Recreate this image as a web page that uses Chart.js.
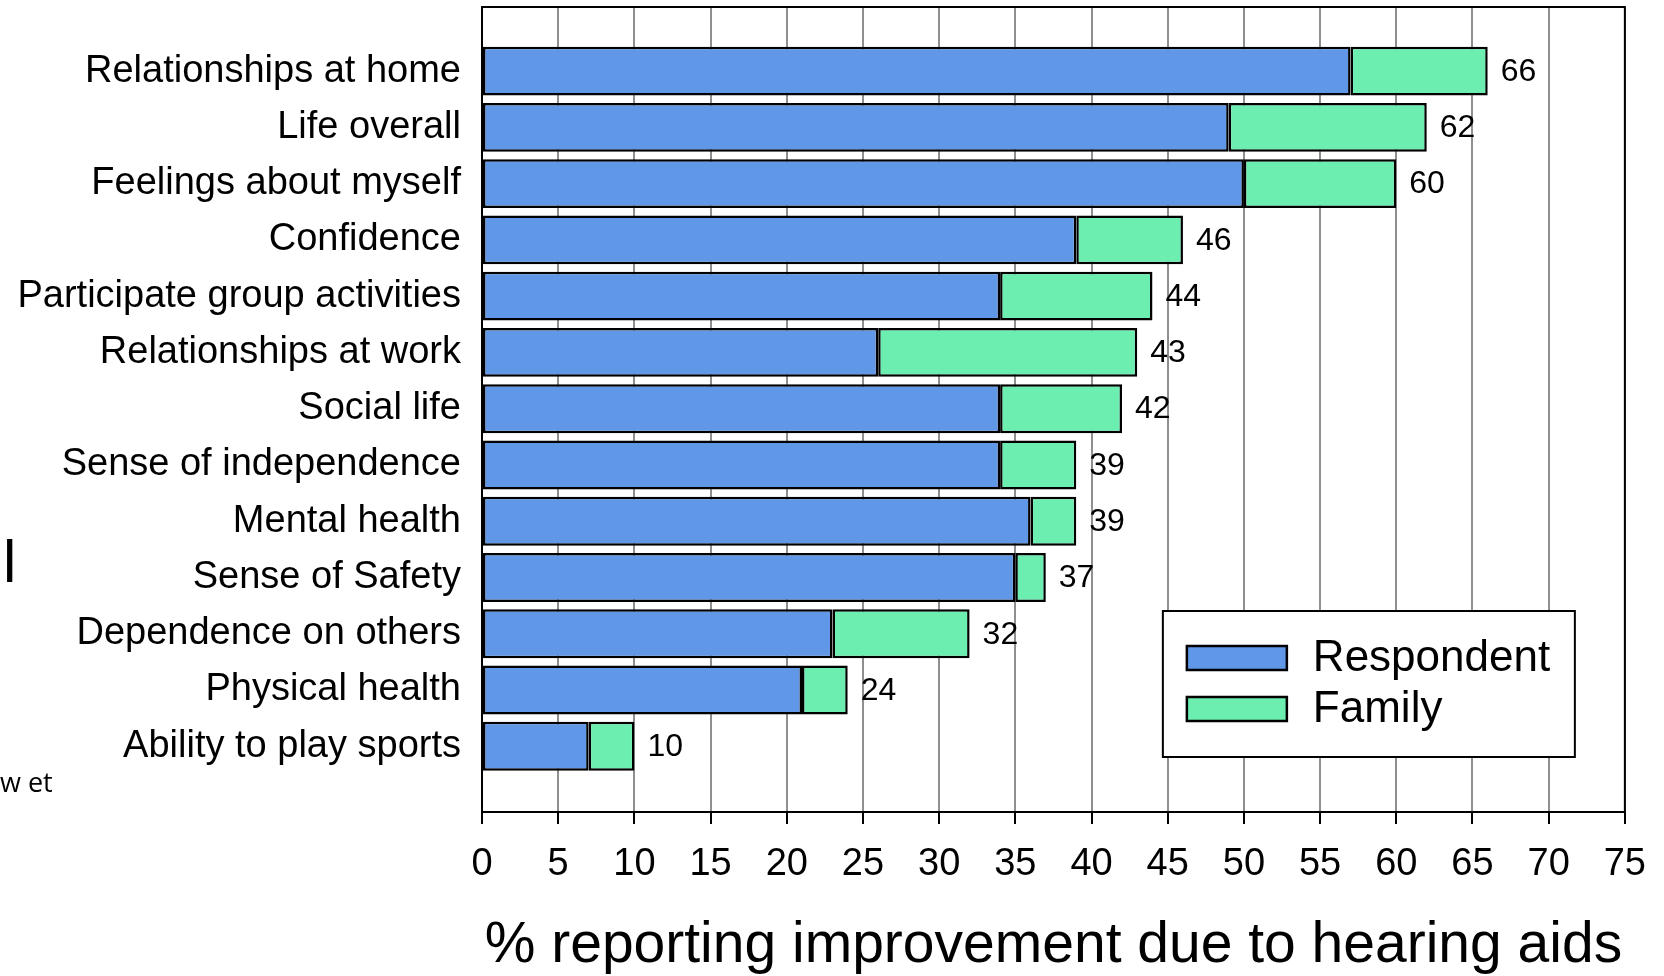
<!DOCTYPE html>
<html>
<head>
<meta charset="utf-8">
<script src="https://cdn.jsdelivr.net/npm/chart.js@4/dist/chart.umd.min.js"></script>
<style>
    body { margin: 0; background: #fff; }
    #wrap { position: relative; width: 1664px; height: 976px; }
    #chartCanvas { position: absolute; left: 0; top: 0; }
    .stray { position: absolute; line-height: 1; color: #000; white-space: nowrap; }
</style>
</head>
<body>
<div id="wrap">
    <canvas id="chartCanvas" width="1664" height="976"></canvas>
    <div class="stray" style="left:3px; top:532px; font: 60px 'Liberation Sans', Arial, sans-serif; line-height:1;">l</div>
    <div class="stray" style="left:0px; top:768px; font: 27px 'Open Sans', sans-serif; line-height:1;">w et</div>
</div>
<script>
// DATA
const categories = [
    'Relationships at home',
    'Life overall',
    'Feelings about myself',
    'Confidence',
    'Participate group activities',
    'Relationships at work',
    'Social life',
    'Sense of independence',
    'Mental health',
    'Sense of Safety',
    'Dependence on others',
    'Physical health',
    'Ability to play sports'
];
const respondent = [57, 49, 50, 39, 34, 26, 34, 34, 36, 35, 23, 21, 7];
const family     = [9, 13, 10, 7, 10, 17, 8, 5, 3, 2, 9, 3, 3];
const xTicks = [0, 5, 10, 15, 20, 25, 30, 35, 40, 45, 50, 55, 60, 65, 70, 75];

const FONT = "'Liberation Sans', Arial, sans-serif";

// Total value at the end of each bar + plot frame
const totalLabels = {
    id: 'totalLabels',
    afterDatasetsDraw(chart) {
        const ctx = chart.ctx;
        const xs = chart.scales.x, ys = chart.scales.y;
        ctx.save();
        ctx.font = '32px ' + FONT;
        ctx.fillStyle = '#000';
        ctx.textAlign = 'left';
        ctx.textBaseline = 'middle';
        categories.forEach((c, i) => {
            const total = respondent[i] + family[i];
            ctx.fillText(String(total), xs.getPixelForValue(total) + 13, ys.getPixelForValue(i) + 1);
        });
        const a = chart.chartArea;
        ctx.strokeStyle = '#000';
        ctx.lineWidth = 2;
        ctx.strokeRect(a.left, a.top, a.right - a.left, a.bottom - a.top);
        ctx.restore();
    }
};

// Legend box inside the plot, bottom right
const boxLegend = {
    id: 'boxLegend',
    afterDraw(chart) {
        const ctx = chart.ctx;
        const a = chart.chartArea;
        const w = 412, h = 146;
        const bx = a.right - 50 - w, by = a.bottom - 55 - h;
        ctx.save();
        ctx.fillStyle = '#fff';
        ctx.fillRect(bx, by, w, h);
        ctx.strokeStyle = '#000';
        ctx.lineWidth = 2;
        ctx.strokeRect(bx, by, w, h);
        ctx.font = '44px ' + FONT;
        ctx.textBaseline = 'middle';
        chart.data.datasets.forEach((ds, i) => {
            const cy = by + 47 + i * 51;
            ctx.fillStyle = ds.backgroundColor;
            ctx.fillRect(bx + 24, cy - 12, 100, 24);
            ctx.lineWidth = 2.5;
            ctx.strokeRect(bx + 24, cy - 12, 100, 24);
            ctx.fillStyle = '#000';
            ctx.fillText(ds.label, bx + 150, cy + 1);
        });
        ctx.restore();
    }
};

const ctx = document.getElementById('chartCanvas').getContext('2d');
const chart = new Chart(ctx, {
    type: 'bar',
    data: {
        labels: categories.map((c, i) => i),
        datasets: [{
            label: 'Respondent',
            data: respondent,
            backgroundColor: '#6097e6',
            borderColor: '#000',
            borderWidth: 2.5,
            borderSkipped: false,
            stack: 's'
        }, {
            label: 'Family',
            data: family,
            backgroundColor: '#6beeb0',
            borderColor: '#000',
            borderWidth: 2.5,
            borderSkipped: false,
            stack: 's'
        }]
    },
    options: {
        indexAxis: 'y',
        responsive: false,
        animation: false,
        devicePixelRatio: 1,
        barPercentage: 0.87,
        categoryPercentage: 1,
        layout: { padding: { left: 0, right: 36, top: 7, bottom: 0 } },
        plugins: {
            legend: { display: false },
            tooltip: { enabled: false }
        },
        scales: {
            x: {
                type: 'linear',
                stacked: true,
                min: 0,
                max: 75,
                afterBuildTicks: scale => { scale.ticks = xTicks.map(v => ({ value: v })); },
                afterFit: scale => { scale.height = 164; },
                grid: {
                    color: '#8f8f8f',
                    lineWidth: 2,
                    drawTicks: true,
                    tickLength: 12,
                    tickColor: '#000',
                    tickWidth: 2
                },
                border: { display: true, color: '#000', width: 2 },
                ticks: {
                    color: '#000',
                    font: { family: FONT, size: 38 },
                    padding: 18,
                    maxRotation: 0
                },
                title: {
                    display: true,
                    text: '% reporting improvement due to hearing aids',
                    color: '#000',
                    font: { family: FONT, size: 57, lineHeight: 1.05 },
                    padding: { top: 0, bottom: 0 }
                }
            },
            y: {
                type: 'linear',
                stacked: true,
                reverse: true,
                offset: false,
                min: -1.14,
                max: 13.17,
                afterBuildTicks: scale => { scale.ticks = categories.map((c, i) => ({ value: i })); },
                afterFit: scale => {
                    scale.width = 482;
                    scale.paddingTop = 0;
                    scale.paddingBottom = 0;
                },
                grid: { display: false, drawTicks: false },
                border: { display: true, color: '#000', width: 2 },
                ticks: {
                    color: '#000',
                    font: { family: FONT, size: 38 },
                    padding: 21,
                    autoSkip: false,
                    callback: v => categories[v]
                }
            }
        }
    },
    plugins: [totalLabels, boxLegend]
});
</script>
</body>
</html>
